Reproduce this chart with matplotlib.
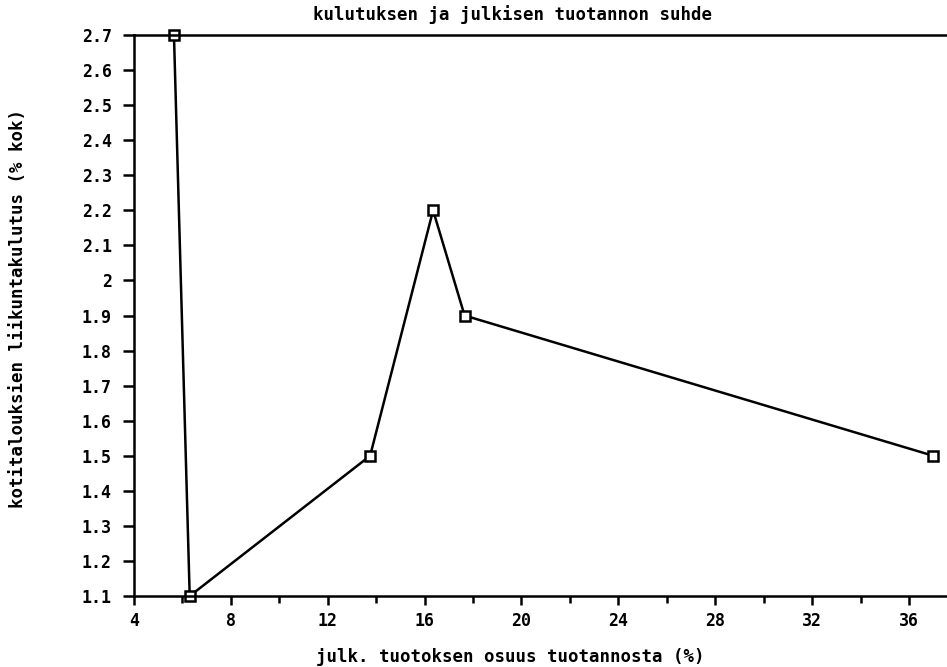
import numpy as np
import matplotlib
matplotlib.use("Agg")
import matplotlib.pyplot as plt
from matplotlib.ticker import MultipleLocator, FormatStrFormatter

# data
julk_osuus = [5.65, 6.3, 13.75, 16.35, 17.65, 37.0]
liikuntakulutus = [2.7, 1.1, 1.5, 2.2, 1.9, 1.5]

title = "kulutuksen ja julkisen tuotannon suhde"
xlabel = "julk. tuotoksen osuus tuotannosta (%)"
ylabel = "kotitalouksien liikuntakulutus (% kok)"

x_ticks = np.arange(4, 37, 4)
y_ticks = np.round(np.arange(1.1, 2.71, 0.1), 1)

plt.rcParams['font.family'] = ['DejaVu Sans Mono']
plt.rcParams['font.weight'] = 'bold'

fig = plt.figure(figsize=(9.47, 6.67), dpi=100)
ax = fig.add_axes([0.1415, 0.1064, 0.8585, 0.8411])

ax.plot(julk_osuus, liikuntakulutus, color='black', lw=1.8,
        marker='s', ms=6.5, mfc='white', mec='black', mew=1.8, clip_on=False)

ax.set_xlim(4, 37.57)
ax.set_ylim(1.1, 2.7)
ax.set_xticks(x_ticks)
ax.xaxis.set_minor_locator(MultipleLocator(2))
ax.set_yticks(y_ticks)
ax.yaxis.set_major_formatter(FormatStrFormatter('%g'))

ax.spines['right'].set_visible(False)
for s in ['left', 'top', 'bottom']:
    ax.spines[s].set_linewidth(1.8)

ax.tick_params(axis='y', direction='out', length=8, width=1.8, pad=8,
               labelsize=12)
ax.tick_params(axis='x', which='major', direction='out', length=6.5,
               width=1.8, pad=5, labelsize=12)
ax.tick_params(axis='x', which='minor', direction='out', length=5, width=1.8)
for lab in ax.get_xticklabels() + ax.get_yticklabels():
    lab.set_fontweight('bold')

fig.text(0.5407, 1 - 15 / 667, title, ha='center', va='center',
         fontsize=12.5, fontweight='bold')
fig.text(0.5385, 0.015, xlabel, ha='center', va='center',
         fontsize=12.5, fontweight='bold')
fig.text(0.019, 0.538, ylabel, ha='center', va='center', rotation=90,
         fontsize=12.5, fontweight='bold')

fig.savefig('out.png', dpi=100)
